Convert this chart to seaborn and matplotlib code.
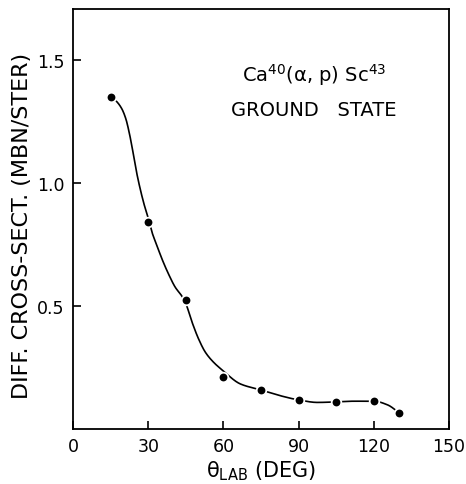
import numpy as np
import pandas as pd
import matplotlib
matplotlib.use("Agg")
import matplotlib.pyplot as plt
import seaborn as sns

# --- datos ---
theta_lab = [15, 30, 45, 60, 75, 90, 105, 120, 130]
sigma = [1.35, 0.84, 0.524, 0.213, 0.159, 0.118, 0.111, 0.112, 0.066]

# curva dibujada a mano (trazada sobre la figura)
curva_theta = [15.2, 17.5, 19.5, 21.1, 22.4, 23.7, 25.1, 26.8, 28.5, 29.9,
               31.5, 33.5, 35.5, 38.1, 40.8, 43.5, 45.0, 47.5, 50.1, 52.8,
               56.1, 59.5, 66.8, 74.8, 82.8, 90.1, 97.5, 104.8, 112.1, 120.1,
               125.5, 130.1]
curva_sigma = [1.351, 1.330, 1.301, 1.260, 1.206, 1.138, 1.057, 0.976, 0.908,
               0.861, 0.800, 0.745, 0.691, 0.630, 0.576, 0.539, 0.510, 0.434,
               0.366, 0.312, 0.271, 0.240, 0.183, 0.159, 0.135, 0.118, 0.108,
               0.110, 0.113, 0.113, 0.098, 0.066]

x_ticks = [0, 30, 60, 90, 120, 150]
y_ticks = [0.5, 1.0, 1.5]
y_tick_labels = ["0.5", "1.0", "1.5"]

df = pd.DataFrame({"theta": theta_lab, "sigma": sigma})


def pchip(x, y, n=800):
    # interpolacion cubica monotona (sin oscilaciones) para la curva trazada
    x = np.asarray(x, float)
    y = np.asarray(y, float)
    h = np.diff(x)
    d = np.diff(y) / h
    m = np.zeros_like(y)
    for i in range(1, len(x) - 1):
        if d[i - 1] * d[i] > 0:
            w1 = 2 * h[i] + h[i - 1]
            w2 = h[i] + 2 * h[i - 1]
            m[i] = (w1 + w2) / (w1 / d[i - 1] + w2 / d[i])
    m[0] = d[0]
    m[-1] = d[-1]
    xs = np.linspace(x[0], x[-1], n)
    idx = np.clip(np.searchsorted(x, xs) - 1, 0, len(x) - 2)
    t = (xs - x[idx]) / h[idx]
    h00 = 2 * t**3 - 3 * t**2 + 1
    h10 = t**3 - 2 * t**2 + t
    h01 = -2 * t**3 + 3 * t**2
    h11 = t**3 - t**2
    ys = h00 * y[idx] + h10 * h[idx] * m[idx] + h01 * y[idx + 1] + h11 * h[idx] * m[idx + 1]
    return xs, ys


xs, ys = pchip(curva_theta, curva_sigma)
curva = pd.DataFrame({"theta": xs, "sigma": ys})

sns.set_style("ticks")
plt.rcParams["font.family"] = ["DejaVu Sans"]
plt.rcParams["text.color"] = "black"
plt.rcParams["axes.labelcolor"] = "black"

fig = plt.figure(figsize=(4.66, 4.85), dpi=100)
ax = fig.add_axes([73 / 466, 55 / 485, 376 / 466, 420 / 485])

sns.lineplot(data=curva, x="theta", y="sigma", color="black", lw=1.2,
             sort=False, ax=ax)
sns.scatterplot(data=df, x="theta", y="sigma", color="black", s=48,
                edgecolor="white", linewidth=1.3, zorder=3, ax=ax)

ax.set_xlim(0, 150)
ax.set_ylim(0, 1.707)
ax.set_xticks(x_ticks)
ax.set_yticks(y_ticks)
ax.set_yticklabels(y_tick_labels)
ax.tick_params(direction="in", length=6, width=1.2, labelsize=12.5, pad=6,
               colors="black")
for s in ax.spines.values():
    s.set_visible(True)
    s.set_linewidth(1.3)
    s.set_color("black")

ax.set_xlabel("θ$_{\\mathrm{LAB}}$ (DEG)", fontsize=15, labelpad=2)
ax.set_ylabel("DIFF. CROSS-SECT. (MBN/STER)", fontsize=16, labelpad=6)
ax.yaxis.set_label_coords(-0.11, 0.485)

ax.text(0.64, 0.845, "Ca$^{40}$(α, p) Sc$^{43}$", transform=ax.transAxes,
        ha="center", va="center", fontsize=14)
ax.text(0.64, 0.76, "GROUND   STATE", transform=ax.transAxes,
        ha="center", va="center", fontsize=14)

fig.savefig("out.png", dpi=100, facecolor="white")
